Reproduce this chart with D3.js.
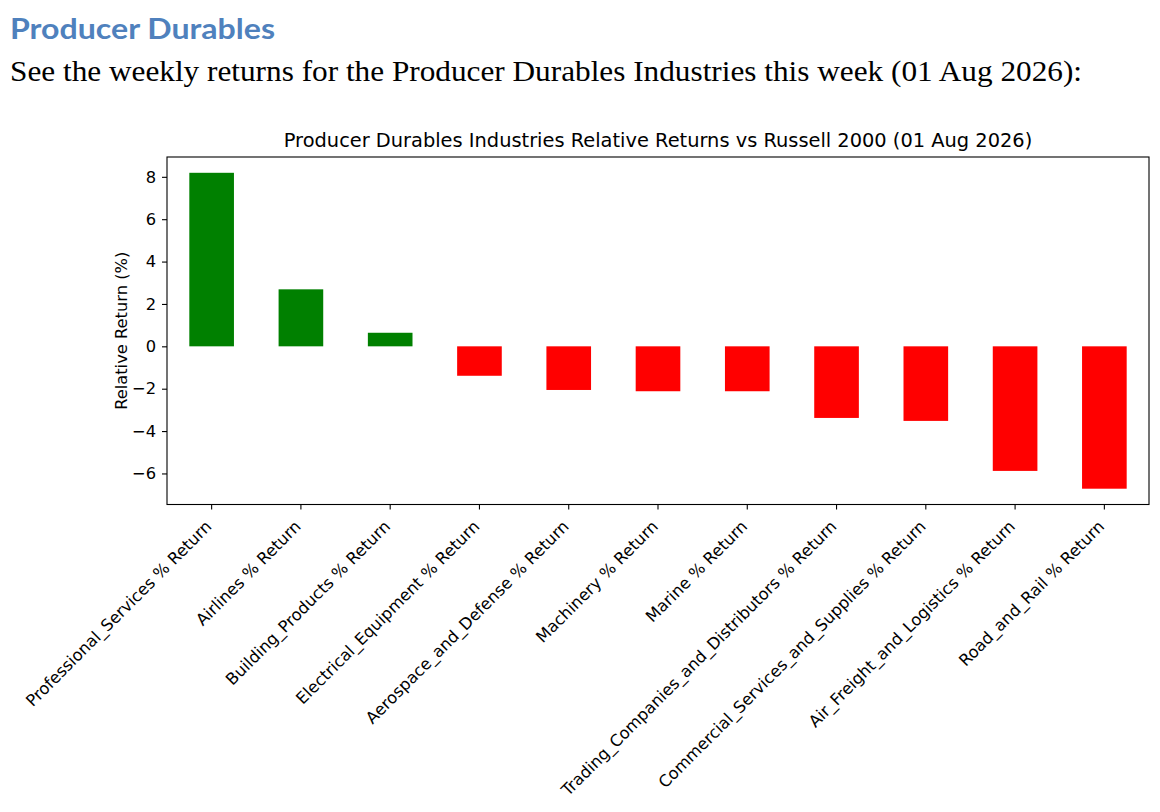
<!DOCTYPE html>
<html>
<head>
<meta charset="utf-8">
<script src="https://cdn.jsdelivr.net/npm/d3@7"></script>
<style>
  body { margin: 0; background: #fff; }
  svg { display: block; }
</style>
</head>
<body>
<script>
// industries and their weekly return relative to the Russell 2000 (%)
var industries = [
  "Professional_Services % Return",
  "Airlines % Return",
  "Building_Products % Return",
  "Electrical_Equipment % Return",
  "Aerospace_and_Defense % Return",
  "Machinery % Return",
  "Marine % Return",
  "Trading_Companies_and_Distributors % Return",
  "Commercial_Services_and_Supplies % Return",
  "Air_Freight_and_Logistics % Return",
  "Road_and_Rail % Return"
];
var relReturns = [8.19, 2.69, 0.64, -1.39, -2.06, -2.12, -2.12, -3.38, -3.52, -5.88, -6.72];
var yTicks = [-6, -4, -2, 0, 2, 4, 6, 8];

var w = 1160, h = 812;
var plotL = 167, plotR = 1149, plotT = 157, plotB = 504.5;
var tickFont = "16.3px";

var svg = d3.select("body").append("svg")
            .attr("width", w)
            .attr("height", h);

// ! page heading + intro line
svg.append("text")
   .attr("x", 10).attr("y", 39)
   .attr("textLength", 265).attr("lengthAdjust", "spacingAndGlyphs")
   .style("font-family", "Lato, 'Open Sans', sans-serif")
   .style("font-weight", "bold")
   .style("font-size", "29px")
   .style("fill", "#4f81bd")
   .text("Producer Durables");

svg.append("text")
   .attr("x", 10).attr("y", 81)
   .attr("textLength", 1072).attr("lengthAdjust", "spacingAndGlyphs")
   .style("font-family", "'Liberation Serif', serif")
   .style("font-size", "30px")
   .style("fill", "#000")
   .text("See the weekly returns for the Producer Durables Industries this week (01 Aug 2026):");

//? scales - matplotlib pads 5% around the data
var lo = d3.min(relReturns), hi = d3.max(relReturns);
var pad = (hi - lo) * 0.05;

const xScale = d3.scaleBand()
                 .domain(industries)
                 .range([plotL, plotR])
                 .paddingInner(0.5)
                 .paddingOuter(0.25);

const yScale = d3.scaleLinear()
                 .domain([lo - pad, hi + pad])
                 .range([plotB, plotT]);

// chart title
svg.append("text")
   .attr("x", (plotL + plotR) / 2).attr("y", 147)
   .attr("text-anchor", "middle")
   .style("font-family", "'DejaVu Sans', sans-serif")
   .style("font-size", "19.4px")
   .text("Producer Durables Industries Relative Returns vs Russell 2000 (01 Aug 2026)");

//* bars
svg.selectAll("rect.bar")
   .data(relReturns)
   .enter().append("rect")
   .attr("class", "bar")
   .attr("x", (d, i) => xScale(industries[i]))
   .attr("y", d => yScale(Math.max(0, d)))
   .attr("width", xScale.bandwidth())
   .attr("height", d => Math.abs(yScale(d) - yScale(0)))
   .style("fill", d => d >= 0 ? "#008000" : "#ff0000");

//* y-axis
var yAxis = d3.axisLeft(yScale).tickValues(yTicks).tickSize(5).tickPadding(6);
var yg = svg.append("g")
            .attr("transform", "translate(" + plotL + ",0)")
            .call(yAxis);
yg.select(".domain").remove();
yg.selectAll("text")
  .style("font-family", "'DejaVu Sans', sans-serif")
  .style("font-size", tickFont)
  .style("fill", "#000");
yg.selectAll("line").style("stroke", "#000").style("stroke-width", 1.1);

//* x-axis
var xAxis = d3.axisBottom(xScale).tickSize(5).tickFormat("");
var xg = svg.append("g")
            .attr("transform", "translate(0," + plotB + ")")
            .call(xAxis);
xg.select(".domain").remove();
xg.selectAll("line").style("stroke", "#000").style("stroke-width", 1.1);

// rotated labels, right end under the tick
svg.append("g").selectAll("text")
   .data(industries)
   .enter().append("text")
   .attr("transform", d => "translate(" + (xScale(d) + xScale.bandwidth() / 2 + 1) + "," + (plotB + 23) + ") rotate(-45)")
   .attr("text-anchor", "end")
   .style("font-family", "'DejaVu Sans', sans-serif")
   .style("font-size", tickFont)
   .text(d => d);

// frame
svg.append("rect")
   .attr("x", plotL).attr("y", plotT)
   .attr("width", plotR - plotL).attr("height", plotB - plotT)
   .style("fill", "none")
   .style("stroke", "#000")
   .style("stroke-width", 1.1);

// y label
svg.append("text")
   .attr("transform", "translate(127," + ((plotT + plotB) / 2) + ") rotate(-90)")
   .attr("text-anchor", "middle")
   .style("font-family", "'DejaVu Sans', sans-serif")
   .style("font-size", tickFont)
   .text("Relative Return (%)");
</script>
</body>
</html>
